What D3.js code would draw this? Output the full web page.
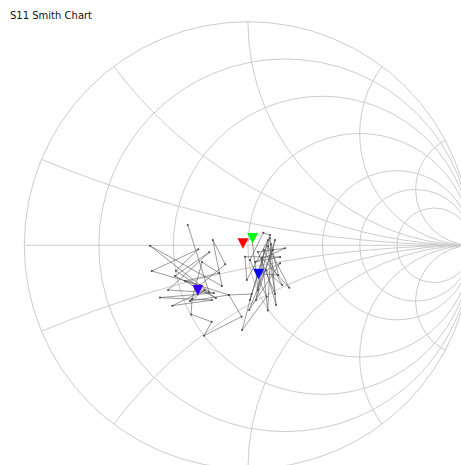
<!DOCTYPE html>
<html>
<head>
<meta charset="utf-8">
<script src="https://cdn.jsdelivr.net/npm/d3@7"></script>
<style>
  body { margin: 0; background: #fff; }
  .title { font-family: "DejaVu Sans", Tahoma, sans-serif; font-size: 10px; fill: #111; }
  .grid { fill: none; stroke: #cccccc; stroke-width: 1; }
  .trace { fill: none; stroke: #555; stroke-width: 0.6; }
</style>
</head>
<body>
<svg id="chart"></svg>
<script>
// constant resistance / reactance values of the grid
var resistances = [0, 0.2, 0.5, 1, 2, 3, 5];
var reactances = [0.2, 0.5, 1, 2, 4];

// S11 trace, reflection coefficient (real, imag)
var s11Re = [-0.269, -0.174, -0.438, -0.116, -0.157, -0.101, -0.214, -0.430, -0.222, -0.322,
  -0.143, -0.326, -0.173, -0.357, -0.152, -0.393, -0.161, -0.338, -0.192, -0.259,
  -0.085, -0.281, -0.129, -0.205, -0.250, -0.254, -0.162, -0.196, -0.028, -0.085,
  0.017, -0.026, 0.084, 0.009, 0.069, 0.099, 0.009, 0.090, -0.005, -0.013,
  0.144, 0.032, 0.166, 0.045, 0.121, 0.090, 0.185, 0.063, 0.089, 0.103,
  0.136, 0.054, 0.144, 0.006, 0.112, 0.121, 0.036, 0.072, 0.153, 0.081,
  0.126, 0.099, 0.045, 0.018, -0.022];
var s11Im = [0.091, -0.209, -0.002, -0.182, 0.024, -0.085, -0.178, -0.115, -0.018, -0.114,
  -0.236, -0.137, -0.031, -0.200, -0.213, -0.234, -0.245, -0.270, -0.200, -0.249,
  -0.222, -0.160, -0.124, -0.075, -0.240, -0.309, -0.342, -0.404, -0.319, -0.222,
  -0.218, -0.379, -0.230, -0.066, 0.056, 0.046, -0.245, 0.024, -0.155, -0.051,
  -0.052, -0.075, -0.013, -0.030, -0.218, -0.003, -0.190, -0.057, -0.292, 0.006,
  -0.133, -0.128, -0.080, -0.289, -0.021, 0.024, -0.245, -0.021, -0.178, -0.110,
  -0.267, 0.033, -0.200, 0.033, 0.006];

// markers
var markerRe = [-0.022, 0.021, 0.048, -0.224];
var markerIm = [0.009, 0.033, -0.127, -0.200];
var markerColors = ["#ff0000", "#00ff00", "#0000ff", "#3a00ff"];

function SmithChart(options) {
  var $$ = this;
  $$.container = options.container;
  $$.width = options.width;
  $$.height = options.height;
  $$.cx = options.cx;
  $$.cy = options.cy;
  $$.radius = options.radius;

  $$.x = d3.scaleLinear().domain([-1, 1]).range([$$.cx - $$.radius, $$.cx + $$.radius]);
  $$.y = d3.scaleLinear().domain([-1, 1]).range([$$.cy + $$.radius, $$.cy - $$.radius]);
  $$.len = function (v) { return $$.x(v) - $$.x(0); };

  $$.draw = function () {
    var svg = d3.select("#" + $$.container)
      .attr("width", $$.width)
      .attr("height", $$.height);

    svg.append("text")
      .attr("class", "title")
      .attr("x", 10)
      .attr("y", 18.5)
      .text("S11 Smith Chart");

    svg.append("clipPath")
      .attr("id", "unit")
      .append("circle")
      .attr("cx", $$.x(0))
      .attr("cy", $$.y(0))
      .attr("r", $$.len(1));

    var grid = svg.append("g");

    grid.append("line")
      .attr("class", "grid")
      .attr("x1", $$.x(-1)).attr("y1", $$.y(0))
      .attr("x2", $$.x(1)).attr("y2", $$.y(0));

    grid.selectAll(".rcircle")
      .data(resistances)
      .enter()
      .append("circle")
      .attr("class", "grid rcircle")
      .attr("cx", function (r) { return $$.x(r / (1 + r)); })
      .attr("cy", $$.y(0))
      .attr("r", function (r) { return $$.len(1 / (1 + r)); });

    var xs = [];
    reactances.forEach(function (v) { xs.push(v); xs.push(-v); });
    grid.append("g")
      .attr("clip-path", "url(#unit)")
      .selectAll(".xcircle")
      .data(xs)
      .enter()
      .append("circle")
      .attr("class", "grid xcircle")
      .attr("cx", $$.x(1))
      .attr("cy", function (v) { return $$.y(1 / v); })
      .attr("r", function (v) { return $$.len(1 / Math.abs(v)); });

    var pts = s11Re.map(function (re, i) { return [re, s11Im[i]]; });
    var line = d3.line()
      .x(function (d) { return $$.x(d[0]); })
      .y(function (d) { return $$.y(d[1]); });

    svg.append("path")
      .attr("class", "trace")
      .attr("d", line(pts));

    svg.selectAll(".pt")
      .data(pts)
      .enter()
      .append("circle")
      .attr("class", "pt")
      .attr("cx", function (d) { return $$.x(d[0]); })
      .attr("cy", function (d) { return $$.y(d[1]); })
      .attr("r", 1)
      .style("fill", "#444");

    // downward triangles
    svg.selectAll(".marker")
      .data(markerRe)
      .enter()
      .append("path")
      .attr("class", "marker")
      .attr("d", function (re, i) {
        var mx = $$.x(re), my = $$.y(markerIm[i]);
        return "M" + (mx - 5.5) + "," + (my - 5) + "L" + (mx + 5.5) + "," + (my - 5) +
          "L" + mx + "," + (my + 5.5) + "Z";
      })
      .style("fill", function (d, i) { return markerColors[i]; });
  };
}

var chart = new SmithChart({
  container: "chart",
  width: 461,
  height: 465,
  cx: 247.9,
  cy: 245.3,
  radius: 223.6
});
chart.draw();
</script>
</body>
</html>
